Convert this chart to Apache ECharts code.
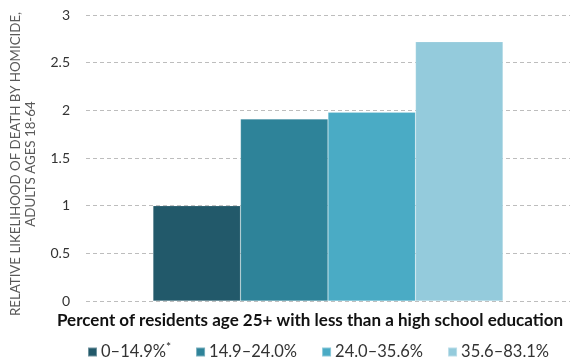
<!DOCTYPE html>
<html>
<head>
<meta charset="utf-8">
<script src="https://cdn.jsdelivr.net/npm/echarts@6/dist/echarts.min.js"></script>
<style>
  html, body { margin: 0; padding: 0; background: #fff; }
  #chart { width: 570px; height: 357px; }
</style>
</head>
<body>
<div id="chart"></div>
<script>
  // education brackets (percent of residents 25+ without high school diploma)
  const brackets = ['0–14.9%', '14.9–24.0%', '24.0–35.6%', '35.6–83.1%'];
  const likelihood = [1.0, 1.91, 1.98, 2.72];
  const barColors = ['#22596a', '#2e8399', '#4aabc5', '#94cbdc'];
  const yTicks = [0, 0.5, 1, 1.5, 2, 2.5, 3];

  const font = 'Lato, "Open Sans", sans-serif';
  const chart = echarts.init(document.getElementById('chart'));

  chart.setOption({
    animation: false,
    grid: {
      left: 86,
      right: 0,
      top: 15,
      bottom: 56,
      outerBoundsMode: 'none',
      containLabel: false,
    },
    legend: {
      data: brackets,
      left: 82,
      top: 336,
      width: 486,
      icon: 'rect',
      itemWidth: 9,
      itemHeight: 9,
      itemGap: 24,
      textStyle: {
        fontFamily: font,
        fontSize: 16.5,
        color: '#333',
        padding: [0, 0, 0, -1],
        rich: {
          sup: { fontSize: 12, verticalAlign: 'top', padding: [0, 0, 10, 0], color: '#222', fontFamily: font },
        },
      },
      formatter: (name) => (name === brackets[0] ? name + '{sup|*}' : name),
    },
    graphic: [
      {
        type: 'text',
        left: 57,
        top: 312,
        style: {
          text: 'Percent of residents age 25+ with less than a high school education',
          font: 'bold 17px ' + font,
          fill: '#111',
        },
      },
      {
        type: 'text',
        x: 23.5,
        y: 164,
        rotation: Math.PI / 2,
        style: {
          text: 'RELATIVE LIKELIHOOD OF DEATH BY HOMICIDE,\nADULTS AGES 18-64',
          font: '13.3px ' + font,
          fill: '#595959',
          align: 'center',
          verticalAlign: 'middle',
          lineHeight: 15,
        },
      },
    ],
    xAxis: {
      type: 'category',
      data: [''],
      axisLine: { show: false },
      axisTick: { show: false },
      axisLabel: { show: false },
    },
    yAxis: {
      type: 'value',
      min: yTicks[0],
      max: yTicks[yTicks.length - 1],
      interval: 0.5,
      axisLine: { show: false },
      axisTick: { show: false },
      axisLabel: {
        fontFamily: font,
        fontSize: 14,
        color: '#333',
        margin: 16,
      },
      splitLine: {
        lineStyle: { color: '#bdbdbd', type: [4, 3], width: 1 },
      },
    },
    series: brackets.map((name, i) => ({
      name,
      type: 'bar',
      data: [likelihood[i]],
      barWidth: 87.5,
      barGap: '0%',
      itemStyle: {
        color: barColors[i],
        borderColor: 'rgba(255,255,255,0.35)',
        borderWidth: 0.5,
      },
    })),
  });
</script>
</body>
</html>
